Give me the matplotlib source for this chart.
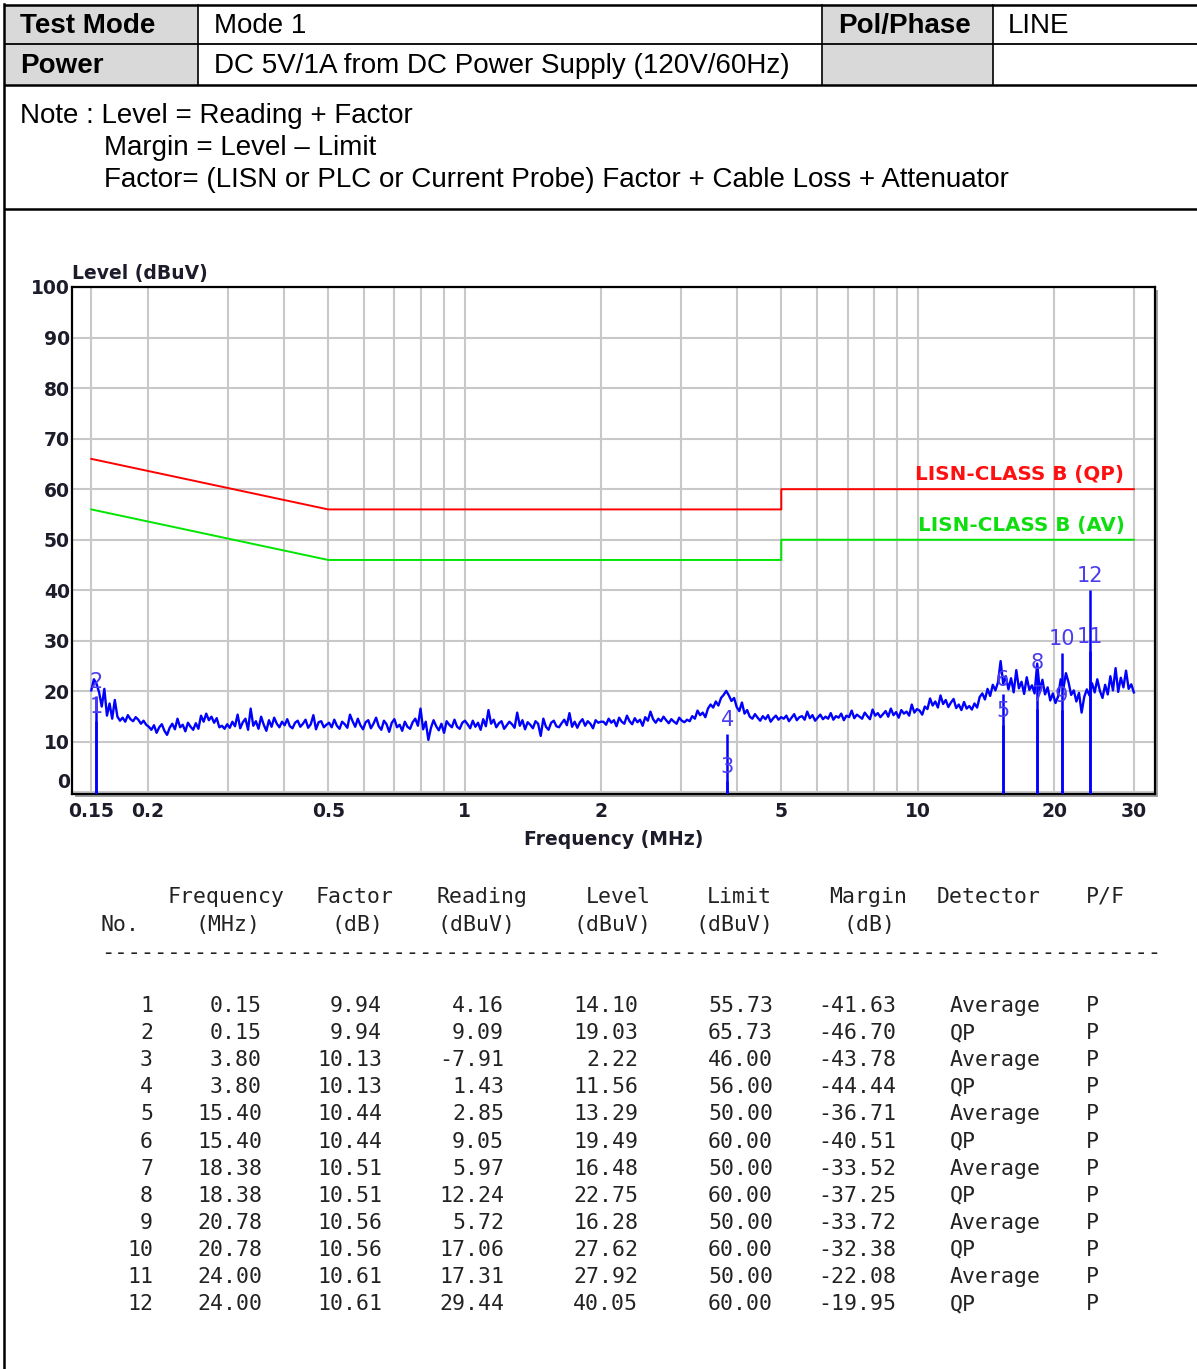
import numpy as np
import matplotlib.pyplot as plt
from matplotlib.patches import Rectangle
from matplotlib.ticker import NullLocator
from matplotlib.transforms import blended_transform_factory

W, H = 1197, 1369

# ---- header block ----
hdr_labels = ["Test Mode", "Power"]
hdr_values = ["Mode 1", "DC 5V/1A from DC Power Supply (120V/60Hz)"]
side_label = "Pol/Phase"
side_value = "LINE"
note_lines = ["Note : Level = Reading + Factor",
              "Margin = Level \u2013 Limit",
              "Factor= (LISN or PLC or Current Probe) Factor + Cable Loss + Attenuator"]

# ---- sweep trace (dBuV), 0.15 .. 30 MHz ----
level_trace = [
    # 0.15 - 0.2
    20.2, 22.4, 21.5, 19.8, 17.0, 20.5, 15.2, 17.6, 14.6, 18.3, 15.0, 14.2, 14.8, 14.0, 15.3,
    14.5, 14.1, 14.9, 14.4, 13.6, 14.2, 13.4,
    # 0.2 - 0.3
    13.0, 12.4, 13.3, 11.8, 12.9, 13.5, 12.2, 11.4, 12.8, 13.6, 12.5, 14.6, 12.9, 13.4, 12.1,
    13.8, 13.0, 12.4, 13.7, 12.6, 15.2, 14.0, 15.6, 14.3, 15.0, 13.8, 14.7, 12.9, 13.2, 12.6,
    # 0.3 - 0.5
    13.5, 12.8, 14.0, 13.1, 15.4, 12.7, 13.9, 14.6, 12.4, 16.6, 13.2, 14.1, 12.6, 15.0, 13.4,
    12.2, 14.3, 13.0, 14.8, 13.6, 12.9, 14.0, 13.3, 14.5, 13.1, 12.7, 13.8, 14.2, 13.0, 13.6,
    14.4, 12.8, 13.5, 15.3, 12.5, 13.9, 14.1, 12.9, 13.4,
    # 0.5 - 1
    13.8, 12.9, 14.4, 13.2, 12.6, 14.0, 13.5, 12.8, 15.4, 14.1, 13.0, 14.6, 13.3, 12.5, 13.9,
    14.3, 12.7, 13.6, 14.8, 13.1, 12.4, 14.2, 13.5, 12.0, 13.8, 14.5, 12.9, 13.4, 12.2, 14.0,
    13.0, 12.6, 13.9, 14.6, 13.2, 16.6, 12.5, 14.0, 10.4, 12.8, 14.3, 13.1, 12.3, 13.6, 11.8,
    14.1, 13.4, 12.9, 14.4, 13.0, 12.6, 13.8, 14.2,
    # 1 - 2
    13.5, 12.7, 14.2, 13.0, 13.8, 12.4, 14.5, 13.1, 16.3, 13.6, 14.4, 12.9, 13.7, 14.1, 12.6,
    13.3, 14.0, 13.5, 12.8, 15.8, 13.2, 14.3, 12.5, 13.9, 13.4, 12.7, 14.1, 13.6, 11.2, 14.6,
    13.0, 12.4, 13.8, 14.2, 13.1, 12.9, 13.7, 14.4, 13.3, 15.7, 13.0, 14.0, 12.8, 13.9, 14.5,
    13.2, 14.1, 13.6, 12.7, 14.3, 13.8, 14.0,
    # 2 - 3.8
    14.0, 13.4, 14.6, 13.8, 14.3, 13.1, 14.8, 14.0, 13.6, 15.2, 14.1, 13.5, 14.7, 13.9, 14.4,
    13.2, 14.9, 14.2, 16.0, 14.5, 13.8, 14.6, 14.1, 15.0, 14.3, 13.7, 14.5, 14.0, 13.6, 14.8,
    14.2, 13.9, 14.4, 14.1, 15.1, 14.6, 16.2, 15.3, 15.8, 14.9, 16.6, 17.4, 16.8, 18.0, 17.2,
    18.7, 19.3, 20.1,
    # 3.8 - 5
    19.2, 18.1, 18.7, 16.9, 16.1, 17.8, 15.6, 16.3, 15.0, 14.6, 15.5, 14.8, 14.2, 15.1, 14.5,
    15.3, 14.0, 14.7, 15.2, 14.4, 14.9,
    # 5 - 10
    14.6, 15.2, 14.1, 14.8, 15.5, 14.3, 14.9, 15.1, 14.4, 16.0, 14.7, 15.3, 14.2, 14.8, 15.4,
    14.5, 15.0, 14.6, 15.7, 14.4, 15.1, 14.8, 15.6, 14.3, 15.2, 14.9, 16.2, 14.7, 15.4, 15.0,
    14.6, 15.8, 15.1, 14.5, 16.4, 15.2, 15.7, 14.9, 15.5, 16.1, 15.0, 16.6, 15.3, 15.9, 14.8,
    16.3, 15.6, 16.0, 15.2, 17.4, 15.8, 16.5,
    # 10 - 15
    16.2, 15.4, 17.0, 16.5, 18.6, 17.2, 18.0, 16.8, 19.2, 17.5, 18.3, 16.9, 17.8, 18.5, 16.7,
    17.4, 16.3, 17.9, 16.6, 17.1, 16.4, 17.6, 16.8, 18.9, 19.6, 18.4, 20.5, 19.1, 21.3, 20.2,
    21.8,
    # 15 - 30
    26.0, 21.5, 23.0, 20.4, 22.6, 19.8, 24.2, 20.6, 21.9, 19.5, 22.8, 20.3, 21.2, 19.6, 25.5,
    20.1, 22.3, 19.4, 20.8, 18.2, 19.6, 17.7, 19.0, 22.4, 20.5, 23.6, 21.8, 19.3, 20.2, 18.0,
    19.7, 15.8, 18.9, 20.4, 19.2, 21.6, 19.8, 22.4, 20.1, 18.7, 21.3, 19.4, 23.0, 20.2, 24.6,
    19.9, 22.7, 20.8, 24.1, 20.5, 21.4, 19.8,
]
trace_freq = np.geomspace(0.15, 30, len(level_trace))

# ---- limit lines ----
lim_freq = [0.15, 0.5, 5, 5, 30]
qp_limit = [66, 56, 56, 60, 60]
av_limit = [56, 46, 46, 50, 50]

# ---- marker table ----
no = list(range(1, 13))
freq_mhz = [0.154, 0.154, 3.80, 3.80, 15.40, 15.40, 18.38, 18.38, 20.78, 20.78, 24.00, 24.00]
factor = [9.94, 9.94, 10.13, 10.13, 10.44, 10.44, 10.51, 10.51, 10.56, 10.56, 10.61, 10.61]
reading = [4.16, 9.09, -7.91, 1.43, 2.85, 9.05, 5.97, 12.24, 5.72, 17.06, 17.31, 29.44]
level = [14.10, 19.03, 2.22, 11.56, 13.29, 19.49, 16.48, 22.75, 16.28, 27.62, 27.92, 40.05]
limit = [55.73, 65.73, 46.00, 56.00, 50.00, 60.00, 50.00, 60.00, 50.00, 60.00, 50.00, 60.00]
margin = [-41.63, -46.70, -43.78, -44.44, -36.71, -40.51, -33.52, -37.25, -33.72, -32.38, -22.08, -19.95]
detector = ["Average", "QP"] * 6
pf = ["P"] * 12

grid_freq = [0.15, 0.2, 0.3, 0.4, 0.5, 0.6, 0.7, 0.8, 0.9, 1, 2, 3, 4, 5, 6, 7, 8, 9, 10, 20, 30]
xtick_text = {0.15: "0.15", 0.2: "0.2", 0.5: "0.5", 1: "1", 2: "2", 5: "5", 10: "10", 20: "20", 30: "30"}
yticks = list(range(0, 101, 10))

fig = plt.figure(figsize=(W / 100, H / 100), dpi=100)
bg = fig.add_axes([0, 0, 1, 1], zorder=0)
bg.set_xlim(0, W)
bg.set_ylim(H, 0)
bg.axis("off")

# header table
bg.add_patch(Rectangle((4, 5), 194, 80, fc="#d9d9d9", ec="none"))
bg.add_patch(Rectangle((822, 5), 171, 80, fc="#d9d9d9", ec="none"))
for y, lw in [(5, 1.8), (44, 1.3), (85, 1.8), (209, 1.8)]:
    bg.plot([4, W], [y, y], color="black", lw=lw, solid_capstyle="butt")
bg.plot([4, 4], [4, H], color="black", lw=1.8)
for x in [198, 822, 993]:
    bg.plot([x, x], [5, 85], color="black", lw=1.2)

hfont = dict(family="Liberation Sans", fontsize=20, color="black", va="baseline")
for i, (lab, val) in enumerate(zip(hdr_labels, hdr_values)):
    yb = 33 + i * 40
    bg.text(20, yb, lab, fontweight="bold", **hfont)
    bg.text(214, yb, val, **hfont)
bg.text(838, 33, side_label, fontweight="bold", **hfont)
bg.text(1008, 33, side_value, **hfont)
for i, line in enumerate(note_lines):
    bg.text(20 if i == 0 else 104, 123 + i * 32, line, **hfont)

# chart
ax = fig.add_axes([72 / W, 1 - 794 / H, (1155 - 72) / W, (794 - 287) / H], zorder=2)
bg.add_patch(Rectangle((75, 290), 1083, 507, fc="#a0a0a0", ec="none"))
ax.set_facecolor("white")
ax.set_xscale("log")
ybot = -0.3
ax.set_xlim(0.136, 33.4)
ax.set_ylim(ybot, 100)

ax.plot(lim_freq, qp_limit, color="#ff0000", lw=1.4, zorder=2)
ax.plot(lim_freq, av_limit, color="#00e600", lw=1.4, zorder=2)
ax.plot(trace_freq, level_trace, color="#0000ff", lw=1.7, zorder=3)
ax.vlines(freq_mhz, ybot, level, color="#0000ff", lw=1.8, zorder=3)
for n, f, lv in zip(no, freq_mhz, level):
    ax.annotate(str(n), (f, lv), xytext=(0, 3), textcoords="offset points",
                ha="center", va="bottom", color="#4a3cf0", fontsize=15, zorder=4)

ax.text(28.6, 61.0, "LISN-CLASS B (QP)", color="#ff1010", fontsize=14.3,
        fontweight="bold", ha="right", va="bottom")
ax.text(28.6, 51.0, "LISN-CLASS B (AV)", color="#10dd10", fontsize=14.3,
        fontweight="bold", ha="right", va="bottom")

txtc = "#1c1c2a"
ax.set_xticks(grid_freq)
ax.set_xticklabels([xtick_text.get(f, "") for f in grid_freq])
ax.xaxis.set_minor_locator(NullLocator())
ax.set_yticks(yticks)
ax.set_yticklabels(["" if v == 0 else str(v) for v in yticks])
ax.tick_params(axis="x", length=0, pad=6, labelsize=13.5, labelcolor=txtc)
ax.tick_params(axis="y", length=0, pad=1.5, labelsize=13.5, labelcolor=txtc)
for lab in ax.get_xticklabels() + ax.get_yticklabels():
    lab.set_fontweight("bold")
trans = blended_transform_factory(ax.transAxes, ax.transData)
ax.text(-0.0016, 0, "0", transform=trans, ha="right", va="bottom",
        fontsize=13.5, fontweight="bold", color=txtc)
ax.grid(True, color="#c8c8c8", lw=1.5)
ax.set_axisbelow(True)
for sp in ax.spines.values():
    sp.set_color("black")
    sp.set_linewidth(1.6)

ax.annotate("Level (dBuV)", (0, 1), xycoords="axes fraction", xytext=(0, 6),
            textcoords="offset points", ha="left", va="baseline",
            fontsize=13.5, fontweight="bold", color=txtc)
ax.annotate("Frequency (MHz)", (0.5, 0), xycoords="axes fraction", xytext=(0, -33),
            textcoords="offset points", ha="center", va="center",
            fontsize=13.5, fontweight="bold", color=txtc)

# result table (monospace)
mono = dict(family="DejaVu Sans Mono", fontsize=15.5, color="#222222", va="center")
head1 = [("Frequency", 168), ("Factor", 316), ("Reading", 437), ("Level", 586),
         ("Limit", 707), ("Margin", 829), ("Detector", 937), ("P/F", 1086)]
head2 = [("No.", 101), ("(MHz)", 195), ("(dB)", 331), ("(dBuV)", 438), ("(dBuV)", 573),
         ("(dBuV)", 695), ("(dB)", 844)]
for t, x in head1:
    bg.text(x, 897, t, ha="left", **mono)
for t, x in head2:
    bg.text(x, 925, t, ha="left", **mono)
bg.text(101, 953, "-" * 80, ha="left", family="DejaVu Sans Mono", fontsize=15.85,
        color="#222222", va="center")

num_cols = [(no, "{:d}", 153), (freq_mhz, "{:.2f}", 262), (factor, "{:.2f}", 382),
            (reading, "{:.2f}", 504), (level, "{:.2f}", 638), (limit, "{:.2f}", 773),
            (margin, "{:.2f}", 896)]
for r in range(len(no)):
    y = 1006 + r * 27.1
    for vals, fmt, xr in num_cols:
        bg.text(xr, y, fmt.format(vals[r]), ha="right", **mono)
    bg.text(950, y, detector[r], ha="left", **mono)
    bg.text(1086, y, pf[r], ha="left", **mono)

fig.savefig("out.png", dpi=100)
